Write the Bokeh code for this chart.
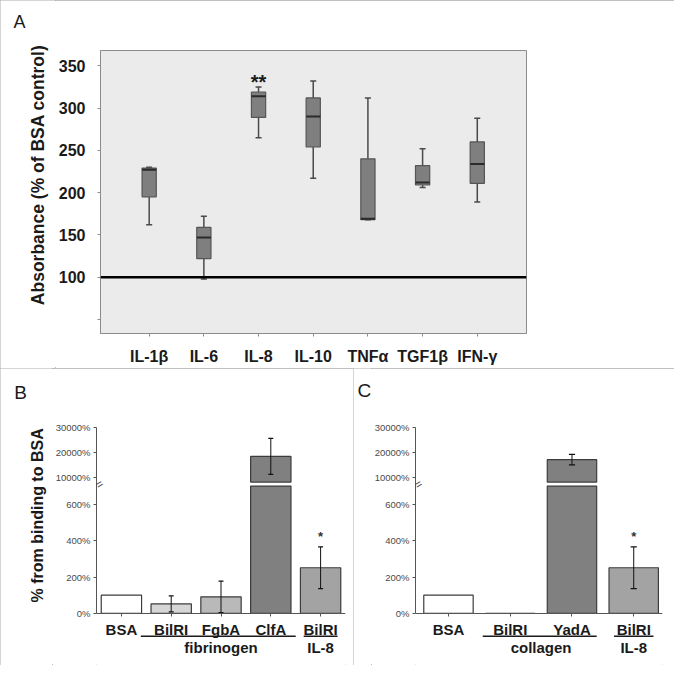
import numpy as np
from math import pi
from bokeh.plotting import figure
from bokeh.models import Range1d, FixedTicker, Label, Span, Row, Column
from bokeh.core.properties import value
from bokeh.embed import file_html
from bokeh.resources import INLINE

FONT = "Liberation Sans"
BORDER = {"outline": "1px solid #ababab", "outline-offset": "-1px"}

# ---------------- data: panel A (box plots) ----------------
cytokines = ["IL-1β", "IL-6", "IL-8", "IL-10", "TNFα", "TGF1β", "IFN-γ"]
box_min = [162, 98, 265, 217, 168, 206, 189]
box_q1 = [195, 122, 289, 254, 168, 209, 211]
box_median = [227, 147, 314, 290, 169, 212, 234]
box_q3 = [229, 159, 319, 312, 240, 232, 260]
box_max = [230, 172, 325, 332, 312, 252, 288]
a_significance = ["", "", "**", "", "", "", ""]
bsa_control = 100
a_yticks = [50, 100, 150, 200, 250, 300, 350]

# ---------------- data: panel B (fibrinogen) ----------------
b_labels = ["BSA", "BilRI", "FgbA", "ClfA", "BilRI"]
b_values = [100, 52, 91, 18500, 251]
b_errors = [0, 44, 87, 7200, 115]
b_colors = ["#ffffff", "#d6d6d6", "#b9b9b9", "#808080", "#a3a3a3"]
b_significance = ["", "", "", "", "*"]
b_groups = ["fibrinogen", "IL-8"]

# ---------------- data: panel C (collagen) ----------------
c_labels = ["BSA", "BilRI", "YadA", "BilRI"]
c_values = [100, 0, 17200, 251]
c_errors = [0, 0, 2100, 115]
c_colors = ["#ffffff", "#d6d6d6", "#808080", "#a3a3a3"]
c_significance = ["", "", "", "*"]
c_groups = ["collagen", "IL-8"]

low_ticks = [0, 200, 400, 600]
high_ticks = [10000, 20000, 30000]


def strip(width, height, items):
    """Narrow figure (frame = whole canvas) that carries panel letters / axis titles."""
    s = figure(width=width, height=height, x_range=Range1d(0, width), y_range=Range1d(0, height),
               output_backend="svg", toolbar_location=None, x_axis_location=None,
               y_axis_location=None, min_border=0, outline_line_color=None,
               background_fill_color="white", border_fill_color="white", frame_align=False)
    s.xgrid.grid_line_color = None
    s.ygrid.grid_line_color = None
    for txt, x, y, size, bold, angle, align in items:
        s.text(x=[x], y=[height - y], text=[txt], angle=angle, text_align=align,
               text_baseline="middle", text_font=value(FONT),
               text_font_style="bold" if bold else "normal",
               text_font_size=value(size), text_color="#1a1a1a")
    return s


# ======================= Panel A =======================
A_H = 368
A_SIDE = 55
sA = strip(A_SIDE, A_H, [("A", 13, 21.2, "18px", False, 0, "left"),
                         ("Absorbance (% of BSA control)", 37, 174.4, "17.5px", True, pi / 2, "center")])

pA = figure(width=674 - A_SIDE, height=A_H, x_range=Range1d(-0.89, 6.9), y_range=Range1d(33.4, 368.1),
            output_backend="svg", toolbar_location=None, frame_align=False,
            min_border_left=99 - A_SIDE, min_border_right=148, min_border_top=50, min_border_bottom=35,
            background_fill_color="#ebebeb", border_fill_color="white",
            outline_line_color="#8c8c8c")
pA.xgrid.grid_line_color = None
pA.ygrid.grid_line_color = None

xa = np.arange(len(cytokines))
bw = 0.26
cap = 0.055
pA.segment(x0=xa, y0=box_q3, x1=xa, y1=box_max, line_color="#4a4a4a", line_width=1.5)
pA.segment(x0=xa, y0=box_q1, x1=xa, y1=box_min, line_color="#4a4a4a", line_width=1.5)
pA.segment(x0=xa - cap, y0=box_max, x1=xa + cap, y1=box_max, line_color="#4a4a4a", line_width=1.5)
pA.segment(x0=xa - cap, y0=box_min, x1=xa + cap, y1=box_min, line_color="#4a4a4a", line_width=1.5)
pA.vbar(x=xa, width=bw, bottom=box_q1, top=box_q3, fill_color="#7f7f7f",
        line_color="#565656", line_width=1.2)
pA.segment(x0=xa - bw / 2, y0=box_median, x1=xa + bw / 2, y1=box_median,
           line_color="#2a2a2a", line_width=2)
pA.add_layout(Span(location=bsa_control, dimension="width", line_color="black", line_width=2.5))

sig_idx = [i for i, s in enumerate(a_significance) if s]
pA.text(x=[int(xa[i]) for i in sig_idx], y=[box_max[i] for i in sig_idx],
        text=[a_significance[i] for i in sig_idx], y_offset=-5,
        text_align="center", text_baseline="middle",
        text_font=value(FONT), text_font_style="bold", text_font_size=value("20px"),
        text_color="#1a1a1a")

for ax in (pA.xaxis, pA.yaxis):
    ax.axis_line_color = "#8c8c8c"
    ax.major_tick_line_color = "#8c8c8c"
    ax.major_tick_in = 0
    ax.major_tick_out = 3
    ax.minor_tick_line_color = None
    ax.major_label_text_font = FONT
    ax.major_label_text_font_style = "bold"
    ax.major_label_text_font_size = "16px"
    ax.major_label_text_color = "#1a1a1a"
pA.yaxis.ticker = FixedTicker(ticks=a_yticks)
pA.yaxis.major_label_overrides = {50: ""}
pA.yaxis.major_label_standoff = 12
pA.xaxis.ticker = FixedTicker(ticks=[int(i) for i in xa])
pA.xaxis.major_label_overrides = {int(i): c for i, c in zip(xa, cytokines)}
pA.xaxis.major_label_standoff = 11

panelA = Row(children=[sA, pA], spacing=0, styles=BORDER)

# ======================= Panels B and C (broken axis) =======================
PH = 297          # panel height
FT = 59           # frame top
FRAME_H = PH - FT
Y0_PX = 244.9     # pixel row of 0%
P_LOW = 0.18186   # px per % in lower section
Y30K_PX = 59.2
P_TOP = 0.002495  # px per % in upper section
LOW_END = (Y0_PX - FT) / P_LOW
LOW_START = -(PH - Y0_PX) / P_LOW
TOP_END = 30000 + (Y30K_PX - FT) / P_TOP
TOP_START = TOP_END - FRAME_H / P_TOP
LOW_BREAK = 700
HIGH_BREAK = 8200


def to_low(v):
    return LOW_START + (v - TOP_START) * (LOW_END - LOW_START) / (TOP_END - TOP_START)


def bar_panel(labels, values, errors, colors, sig, groups, group_spans,
              width, left, right, x_lo, x_hi, bar_w):
    n = len(labels)
    idx = np.arange(n)
    vals = np.array(values, float)
    errs = np.array(errors, float)
    p = figure(width=width, height=PH, x_range=Range1d(x_lo, x_hi),
               y_range=Range1d(LOW_START, LOW_END), x_axis_location="above",
               output_backend="svg", toolbar_location=None, frame_align=False,
               min_border_left=left, min_border_right=right, min_border_top=FT,
               min_border_bottom=0, outline_line_color=None,
               background_fill_color="white", border_fill_color="white")
    p.extra_y_ranges = {"top": Range1d(TOP_START, TOP_END)}
    p.xgrid.grid_line_color = None
    p.ygrid.grid_line_color = None

    # lower section
    p.vbar(x=idx, width=bar_w, bottom=0, top=np.minimum(vals, LOW_BREAK),
           fill_color=colors, line_color="#3c3c3c", line_width=1.2)
    # upper section
    hi = vals > HIGH_BREAK
    p.vbar(x=idx[hi], width=bar_w, bottom=HIGH_BREAK, top=vals[hi], y_range_name="top",
           fill_color=[c for c, h in zip(colors, hi) if h], line_color="#3c3c3c", line_width=1.2)

    ecap = 0.05
    lo_e = (vals <= LOW_BREAK) & (errs > 0)
    for mask, rng in ((lo_e, "default"), (hi & (errs > 0), "top")):
        x = idx[mask]
        y1 = vals[mask] - errs[mask]
        y2 = vals[mask] + errs[mask]
        kw = {} if rng == "default" else {"y_range_name": "top"}
        p.segment(x0=x, y0=y1, x1=x, y1=y2, line_color="#111111", line_width=1, **kw)
        p.segment(x0=x - ecap, y0=y1, x1=x + ecap, y1=y1, line_color="#111111", line_width=1.3, **kw)
        p.segment(x0=x - ecap, y0=y2, x1=x + ecap, y1=y2, line_color="#111111", line_width=1.3, **kw)

    s_idx = [i for i, s in enumerate(sig) if s]
    p.text(x=[int(i) for i in s_idx], y=[vals[i] + errs[i] for i in s_idx],
           text=[sig[i] for i in s_idx], y_offset=-10.8, text_align="center",
           text_baseline="middle", text_font=value(FONT), text_font_style="bold",
           text_font_size=value("13px"), text_color="#333333")

    # category labels
    p.text(x=[int(i) for i in idx], y=[0] * n, text=labels, y_offset=16.3,
           text_align="center", text_baseline="middle", text_font=value(FONT),
           text_font_style="bold", text_font_size=value("15px"), text_color="#1a1a1a")
    uy = -22.9 / P_LOW
    for name, (i0, i1, pl, pr) in zip(groups, group_spans):
        p.segment(x0=[i0 - pl], y0=[uy], x1=[i1 + pr], y1=[uy], line_color="#1a1a1a", line_width=1.6)
        p.text(x=[(i0 + i1) / 2], y=[0], text=[name], y_offset=33.9, text_align="center",
               text_baseline="middle", text_font=value(FONT), text_font_style="bold",
               text_font_size=value("15px"), text_color="#1a1a1a")

    # axes
    xa_ = p.xaxis[0]
    xa_.fixed_location = 0
    xa_.ticker = FixedTicker(ticks=[int(i) for i in idx])
    xa_.major_label_overrides = {int(i): "" for i in idx}
    xa_.major_label_text_font_size = "1px"
    xa_.major_tick_in = 3
    xa_.major_tick_out = 0
    xa_.minor_tick_line_color = None
    xa_.axis_line_color = "#555555"
    xa_.major_tick_line_color = "#555555"

    ya = p.yaxis[0]
    tick_pos = [float(t) for t in low_ticks] + [float(to_low(t)) for t in high_ticks]
    tick_txt = ["%d%%" % t for t in low_ticks] + ["%d%%" % t for t in high_ticks]
    ya.ticker = FixedTicker(ticks=tick_pos)
    ya.major_label_overrides = {tp: tt for tp, tt in zip(tick_pos, tick_txt)}
    ya.bounds = (0, float(to_low(high_ticks[-1])))
    ya.axis_line_color = "#555555"
    ya.major_tick_line_color = "#555555"
    ya.major_tick_in = 0
    ya.major_tick_out = 3
    ya.minor_tick_line_color = None
    ya.major_label_standoff = 3
    ya.major_label_text_font = FONT
    ya.major_label_text_font_size = "9.5px"
    ya.major_label_text_color = "#4a4a4a"

    # axis break mark
    p.add_layout(Label(x=3, y=PH - 115.7, x_units="screen", y_units="screen", text="=",
                       angle=0.55, text_align="center", text_baseline="middle",
                       text_font=FONT, text_font_size="12px", text_color="#444444"))
    return p


B_SIDE = 52
sB = strip(B_SIDE, PH, [("B", 13.7, 24.0, "19px", False, 0, "left"),
                        ("% from binding to BSA", 36.6, 146.9, "16px", True, pi / 2, "center")])
pB = bar_panel(b_labels, b_values, b_errors, b_colors, b_significance, b_groups,
               [(1, 3, 0.61, 0.50), (4, 4, 0.34, 0.34)],
               width=353 - B_SIDE, left=95 - B_SIDE, right=8, x_lo=-0.5, x_hi=4.5, bar_w=0.81)

C_SIDE = 18
sC = strip(C_SIDE, PH, [("C", 4, 22.3, "19px", False, 0, "left")])
pC = bar_panel(c_labels, c_values, c_errors, c_colors, c_significance, c_groups,
               [(1, 2, 0.445, 0.40), (3, 3, 0.32, 0.32)],
               width=321 - C_SIDE, left=59 - C_SIDE, right=12, x_lo=-0.534, x_hi=3.466, bar_w=0.8)

panelB = Row(children=[sB, pB], spacing=0, styles=BORDER)
panelC = Row(children=[sC, pC], spacing=0, styles=BORDER)

layout = Column(children=[panelA, Row(children=[panelB, panelC], spacing=0)], spacing=0)
open("out.html", "w").write(file_html(layout, INLINE))
